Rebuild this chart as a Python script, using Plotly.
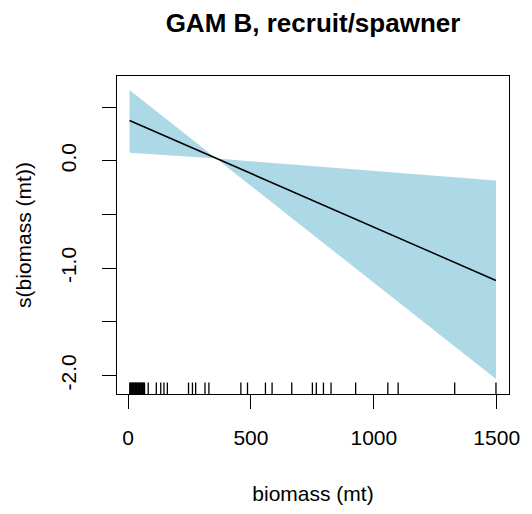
import plotly.graph_objects as go

# ---- data ----
grid_x = [6, 100, 200, 300, 359, 400, 500, 600, 700, 800, 900, 1000, 1100, 1200, 1300, 1400, 1497]
fit_y = [0.375, 0.281, 0.181, 0.081, 0.022, -0.019, -0.119, -0.219, -0.318, -0.418, -0.518,
         -0.618, -0.718, -0.818, -0.918, -1.018, -1.115]
upper_y = [0.659, 0.489, 0.308, 0.127, 0.020, 0.013, -0.005, -0.023, -0.041, -0.059, -0.077,
           -0.095, -0.113, -0.131, -0.148, -0.166, -0.184]
lower_y = [0.075, 0.060, 0.045, 0.029, 0.020, -0.054, -0.234, -0.415, -0.595, -0.775, -0.956,
           -1.136, -1.316, -1.497, -1.677, -1.857, -2.032]
rug_x = [7, 10, 13, 16, 19, 22, 25, 28, 31, 34, 37, 40, 43, 46, 49, 52, 55, 58, 61, 64, 67,
         82, 115, 133, 146, 160, 246, 262, 275, 313, 329, 459, 486, 559, 586, 666, 750, 766,
         795, 826, 926, 1057, 1099, 1329, 1497]
y_tickvals = [0.5, 0.0, -0.5, -1.0, -1.5, -2.0]
y_ticktext = ["", "0.0", "", "-1.0", "", "-2.0"]
x_tickvals = [0, 500, 1000, 1500]
x_ticktext = ["0", "500", "1000", "1500"]

FONT = "Liberation Sans, Arial, sans-serif"

# page body has an 8px margin, so the figure is drawn at (8, 8)
OFF = 8
W, H = 532 - OFF, 514 - OFF

fig = go.Figure()

# confidence band polygon
fig.add_trace(go.Scatter(
    x=grid_x + grid_x[::-1],
    y=upper_y + lower_y[::-1],
    fill="toself", fillcolor="#ADD8E6",
    line=dict(width=0), mode="lines", hoverinfo="skip", showlegend=False,
))
# fitted smooth
fig.add_trace(go.Scatter(
    x=grid_x, y=fit_y, mode="lines",
    line=dict(color="black", width=1.5), showlegend=False,
))

# rug
shapes = []
for v in rug_x:
    shapes.append(dict(type="line", xref="x", yref="y domain", x0=v, x1=v, y0=0, y1=0.036,
                       line=dict(color="black", width=1.3)))
fig.update_layout(shapes=shapes)

fig.update_layout(
    width=W, height=H,
    margin=dict(l=117 - OFF, r=W - (517 - OFF), t=76 - OFF, b=H - (398 - OFF)),
    paper_bgcolor="white", plot_bgcolor="white",
    font=dict(family=FONT, color="black", size=21),
    title=dict(text="<b>GAM B, recruit/spawner</b>", font=dict(size=26, family=FONT, color="black"),
               x=0.5, xref="paper", xanchor="center", y=1 - (23 - OFF) / H, yref="container",
               yanchor="middle"),
)
fig.update_xaxes(
    range=[-45, 1550], showgrid=False, zeroline=False,
    showline=True, mirror=True, linecolor="black", linewidth=1,
    ticks="outside", ticklen=14, tickwidth=1, tickcolor="black",
    tickvals=x_tickvals, ticktext=x_ticktext, ticklabelstandoff=11,
    tickfont=dict(size=21),
    title=dict(text="biomass (mt)", font=dict(size=21), standoff=38),
)
fig.update_yaxes(
    range=[-2.172, 0.789], showgrid=False, zeroline=False,
    showline=True, mirror=True, linecolor="black", linewidth=1,
    ticks="outside", ticklen=14, tickwidth=1, tickcolor="black",
    tickvals=y_tickvals, ticktext=y_ticktext, tickangle=-90, ticklabelstandoff=18,
    tickfont=dict(size=21),
    title=dict(text="s(biomass (mt))", font=dict(size=21), standoff=19),
)

fig.write_html("out.html")
